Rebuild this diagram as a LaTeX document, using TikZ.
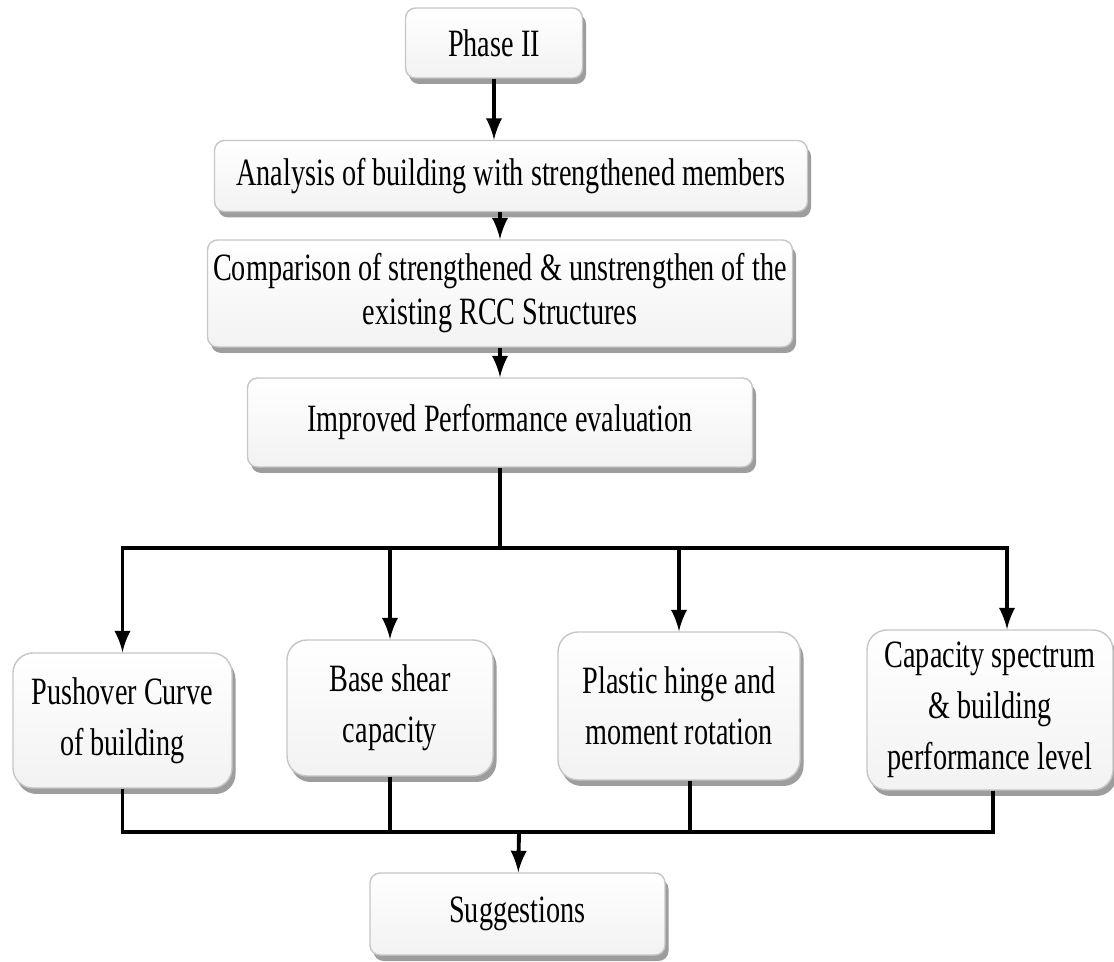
\documentclass[tikz,border=0pt]{standalone}
\usepackage{fontspec}
\setmainfont{Liberation Serif}[FakeStretch=0.73]
\usepackage{tikz}
\usetikzlibrary{shadows}

\tikzset{
  stage/.style = {draw = gray!45, rounded corners = 1mm, top color = white, bottom color = gray!10,
                  drop shadow = {shadow xshift = 0.35mm, shadow yshift = -0.6mm, fill = black!70, opacity = 0.55},
                  align = center, inner sep = 1pt, font = \fontsize{11}{12.5}\selectfont},
  result/.style = {stage, rounded corners = 2mm, font = \fontsize{11}{14.5}\selectfont},
  link/.style = {line width = 1.1pt}
}

\begin{document}
\begin{tikzpicture}

\useasboundingbox (0, 0) rectangle (11.14, 9.61);

% phase II chain
\node [stage, minimum width = 1.77cm, minimum height = 0.70cm] (phase) at (4.94, 9.18) {Phase II};
\node [stage, minimum width = 5.93cm, minimum height = 0.71cm] (ana) at (5.11, 7.85) {Analysis of building with strengthened members};
\node [stage, minimum width = 5.85cm, minimum height = 1.07cm] (comp) at (5.00, 6.675) {Comparison of strengthened \& unstrengthen of the\\ existing RCC Structures};
\node [stage, minimum width = 5.05cm, minimum height = 0.89cm] (imp) at (5.00, 5.385) {Improved Performance evaluation};

% outcomes
\node [result, minimum width = 2.19cm, minimum height = 1.35cm] (push) at (1.225, 2.405) {Pushover Curve\\ of building};
\node [result, minimum width = 2.06cm, minimum height = 1.36cm] (base) at (3.90, 2.53) {Base shear\\ capacity};
\node [result, minimum width = 2.42cm, minimum height = 1.48cm] (plas) at (6.79, 2.55) {Plastic hinge and\\ moment rotation};
\node [result, minimum width = 2.46cm, minimum height = 1.60cm] (cap) at (9.90, 2.51) {Capacity spectrum\\ \& building\\ performance level};
\node [stage, minimum width = 2.95cm, minimum height = 0.82cm] (sug) at (5.175, 0.47) {Suggestions};

\coordinate (split) at (5.00, 4.13);
\coordinate (merge) at (5.19, 1.29);

\draw [link, -latex] (phase.south) -- (phase.south |- ana.north);
\draw [link, -latex] (comp.north |- ana.south) -- (comp.north);
\draw [link, -latex] (comp) -- (imp);

\draw [link] (imp) -- (split);
\draw [link, -latex] (split) -| (push);
\draw [link, -latex] (split) -| (base);
\draw [link, -latex] (split) -| (plas);
\draw [link, -latex] (split) -| ([xshift = 1.7mm]cap.north);

\draw [link] (push) |- (merge);
\draw [link] (base) |- (merge);
\draw [link] ([xshift = 1.1mm]plas.south) |- (merge);
\draw [link] ([xshift = 0.3mm]cap.south) |- (merge);
\draw [link, -latex] (merge) -- (sug);

\end{tikzpicture}
\end{document}
